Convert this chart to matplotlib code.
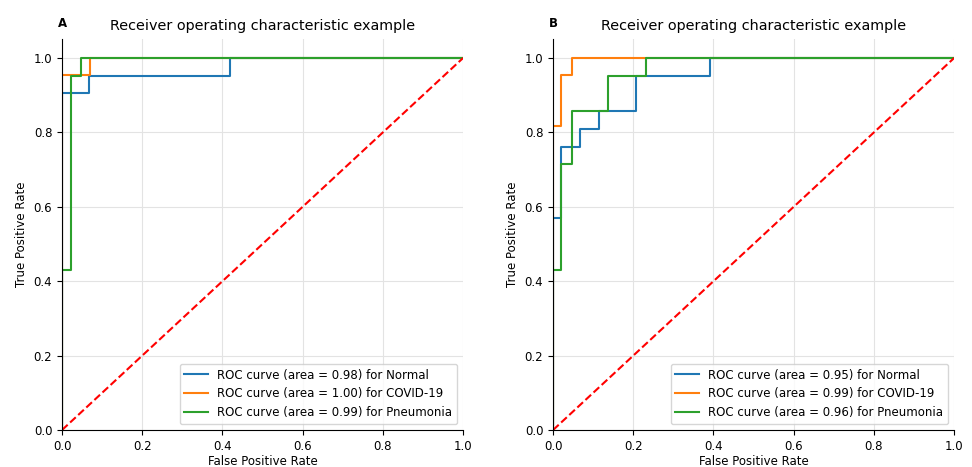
import matplotlib
matplotlib.use("Agg")
import matplotlib.pyplot as plt

# Panel A data
a_normal_fpr = [0.0, 0.0, 0.068, 0.068, 0.418, 0.418, 1.0]
a_normal_tpr = [0.0, 0.905, 0.905, 0.952, 0.952, 1.0, 1.0]
a_covid_fpr = [0.0, 0.0, 0.071, 0.071, 1.0]
a_covid_tpr = [0.0, 0.955, 0.955, 1.0, 1.0]
a_pneu_fpr = [0.0, 0.0, 0.022, 0.022, 0.047, 0.047, 1.0]
a_pneu_tpr = [0.0, 0.429, 0.429, 0.952, 0.952, 1.0, 1.0]
a_auc = [0.98, 1.00, 0.99]

# Panel B data
b_normal_fpr = [0.0, 0.0, 0.021, 0.021, 0.066, 0.066, 0.114, 0.114, 0.208, 0.208, 0.392, 0.392, 1.0]
b_normal_tpr = [0.0, 0.571, 0.571, 0.762, 0.762, 0.810, 0.810, 0.857, 0.857, 0.952, 0.952, 1.0, 1.0]
b_covid_fpr = [0.0, 0.0, 0.021, 0.021, 0.046, 0.046, 1.0]
b_covid_tpr = [0.0, 0.818, 0.818, 0.955, 0.955, 1.0, 1.0]
b_pneu_fpr = [0.0, 0.0, 0.021, 0.021, 0.046, 0.046, 0.138, 0.138, 0.231, 0.231, 1.0]
b_pneu_tpr = [0.0, 0.429, 0.429, 0.714, 0.714, 0.857, 0.857, 0.952, 0.952, 1.0, 1.0]
b_auc = [0.95, 0.99, 0.96]

classes = ["Normal", "COVID-19", "Pneumonia"]
colors = ["#1f77b4", "#ff7f0e", "#2ca02c"]

panels = [
    ("A", [(a_normal_fpr, a_normal_tpr), (a_covid_fpr, a_covid_tpr), (a_pneu_fpr, a_pneu_tpr)], a_auc),
    ("B", [(b_normal_fpr, b_normal_tpr), (b_covid_fpr, b_covid_tpr), (b_pneu_fpr, b_pneu_tpr)], b_auc),
]

fig = plt.figure(figsize=(9.72, 4.67), dpi=100)
lefts = [0.0638, 0.569]
for (label, curves, aucs), left in zip(panels, lefts):
    ax = fig.add_axes([left, 0.0792, 0.4126, 0.8364])
    for (fpr, tpr), auc, cls, col in zip(curves, aucs, classes, colors):
        ax.plot(fpr, tpr, color=col, lw=1.5,
                label=f"ROC curve (area = {auc:.2f}) for {cls}")
    ax.plot([0, 1], [0, 1], "r--", lw=1.5)
    ax.set_xlim(0, 1.0)
    ax.set_ylim(0, 1.05)
    ax.grid(True, color="#e3e3e3", lw=0.8)
    ax.set_axisbelow(True)
    for s in ["top", "right"]:
        ax.spines[s].set_visible(False)
    ax.tick_params(labelsize=8.5)
    ax.set_xlabel("False Positive Rate", fontsize=8.5, labelpad=1.5)
    ax.set_ylabel("True Positive Rate", fontsize=8.5)
    ax.set_title("Receiver operating characteristic example", fontsize=10.4, pad=7)
    ax.annotate(label, xy=(0, 1), xycoords="axes fraction", xytext=(0, 7),
                textcoords="offset points", fontsize=8.5, fontweight="bold",
                ha="center", va="bottom")
    ax.legend(loc="lower right", fontsize=8.5)

fig.savefig("out.png", dpi=100)
